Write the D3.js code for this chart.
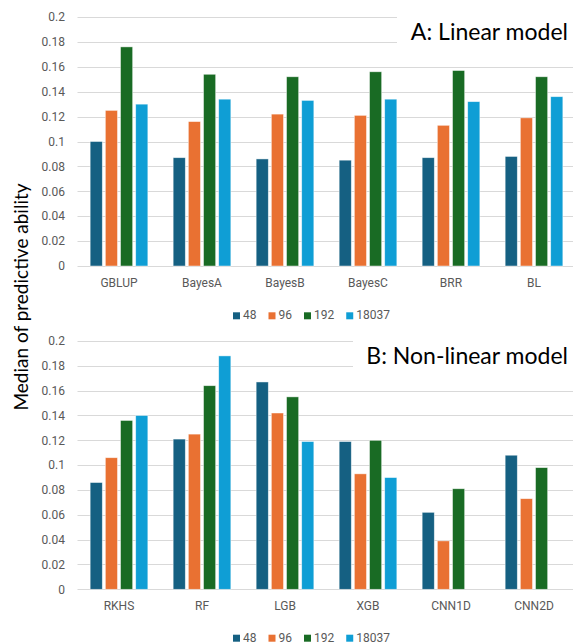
<!DOCTYPE html>
<html>
<head>
<meta charset="utf-8">
<script src="https://cdn.jsdelivr.net/npm/d3@7"></script>
<style>
  body { margin: 0; background: #fff; }
  svg { display: block; }
  .tick-label, .cat-label, .legend-label { font-family: Roboto, "Liberation Sans", sans-serif; font-size: 12px; fill: #595959; }
  .panel-title, .y-title { font-family: Lato, "Open Sans", sans-serif; fill: #000; }
</style>
</head>
<body>
<svg id="chart" width="573" height="643"></svg>
<script>
// series (training set sizes)
const seriesNames = ["48", "96", "192", "18037"];
const seriesColors = ["#156082", "#E97132", "#196B24", "#0F9ED5"];
const yTicks = [0, 0.02, 0.04, 0.06, 0.08, 0.1, 0.12, 0.14, 0.16, 0.18, 0.2];

// A: linear models
const linearModels = ["GBLUP", "BayesA", "BayesB", "BayesC", "BRR", "BL"];
const linear48 = [0.100, 0.087, 0.086, 0.085, 0.087, 0.088];
const linear96 = [0.125, 0.116, 0.122, 0.121, 0.113, 0.119];
const linear192 = [0.176, 0.154, 0.152, 0.156, 0.157, 0.152];
const linear18037 = [0.130, 0.134, 0.133, 0.134, 0.132, 0.136];

// B: non-linear models (no 18037 result for the CNNs)
const nonlinearModels = ["RKHS", "RF", "LGB", "XGB", "CNN1D", "CNN2D"];
const nonlinear48 = [0.086, 0.121, 0.167, 0.119, 0.062, 0.108];
const nonlinear96 = [0.106, 0.125, 0.142, 0.093, 0.039, 0.073];
const nonlinear192 = [0.136, 0.164, 0.155, 0.120, 0.081, 0.098];
const nonlinear18037 = [0.140, 0.188, 0.119, 0.090, null, null];

const svg = d3.select("#chart");
const W = 573;

function drawPanel(cfg) {
    const g = svg.append("g");
    const y = d3.scaleLinear().domain([0, 0.2]).range([cfg.y0, cfg.y1]);
    const x0 = d3.scaleBand().domain(cfg.categories)
        .range([77.5, 575.5]).paddingInner(0.305).paddingOuter(0.1525);
    const x1 = d3.scaleBand().domain(seriesNames)
        .range([0, x0.bandwidth()]).paddingInner(0.2);
    const color = d3.scaleOrdinal().domain(seriesNames).range(seriesColors);

    // gridlines
    g.append("g").selectAll("line").data(yTicks).join("line")
        .attr("x1", 77.5).attr("x2", W)
        .attr("y1", d => Math.round(y(d)) + 0.5).attr("y2", d => Math.round(y(d)) + 0.5)
        .attr("stroke", "#d9d9d9").attr("stroke-width", 1);

    // tick labels
    g.append("g").selectAll("text").data(yTicks).join("text")
        .attr("class", "tick-label")
        .attr("x", 65).attr("y", d => y(d)).attr("dy", "0.35em")
        .attr("text-anchor", "end")
        .text(d => String(+d.toFixed(2)));

    // bars
    const rows = cfg.categories.map((c, i) => ({
        cat: c,
        vals: seriesNames.map((s, j) => ({ key: s, v: cfg.values[j][i] }))
    }));
    g.append("g").selectAll("g").data(rows).join("g")
        .attr("transform", d => `translate(${x0(d.cat)},0)`)
        .selectAll("rect").data(d => d.vals.filter(e => e.v != null)).join("rect")
        .attr("x", d => x1(d.key)).attr("width", x1.bandwidth())
        .attr("y", d => y(d.v)).attr("height", d => y(0) - y(d.v))
        .attr("fill", d => color(d.key))
        .attr("stroke", "#fff").attr("stroke-opacity", 0.6).attr("stroke-width", 0.75);

    // category labels
    g.append("g").selectAll("text").data(cfg.categories).join("text")
        .attr("class", "cat-label")
        .attr("x", d => x0(d) + x0.bandwidth() / 2).attr("y", cfg.y0 + 21)
        .attr("text-anchor", "middle").text(d => d);

    // title with white box that hides the top gridlines
    g.append("rect").attr("x", cfg.titleX).attr("y", cfg.y1 - 6)
        .attr("width", W - cfg.titleX).attr("height", 34).attr("fill", "#fff");
    g.append("text").attr("class", "panel-title")
        .attr("x", 568).attr("y", cfg.y1 + 23).attr("text-anchor", "end")
        .attr("font-size", 23).text(cfg.title);

    // legend
    const lg = g.append("g").attr("transform", `translate(233,${cfg.legendY})`);
    let lx = 0;
    seriesNames.forEach((s, i) => {
        lg.append("rect").attr("x", lx).attr("y", -7).attr("width", 7).attr("height", 7)
            .attr("fill", seriesColors[i]);
        const t = lg.append("text").attr("class", "legend-label")
            .attr("x", lx + 10).attr("y", 0).text(s);
        lx += 10 + t.node().getComputedTextLength() + 12;
    });
}

drawPanel({
    categories: linearModels,
    values: [linear48, linear96, linear192, linear18037],
    y0: 266, y1: 17, title: "A: Linear model", titleX: 397, legendY: 319.3
});
drawPanel({
    categories: nonlinearModels,
    values: [nonlinear48, nonlinear96, nonlinear192, nonlinear18037],
    y0: 589.3, y1: 341, title: "B: Non-linear model", titleX: 353, legendY: 641.7
});

svg.append("text").attr("class", "y-title")
    .attr("transform", "translate(28,297) rotate(-90)")
    .attr("text-anchor", "middle").attr("font-size", 19)
    .text("Median of predictive ability");
</script>
</body>
</html>
